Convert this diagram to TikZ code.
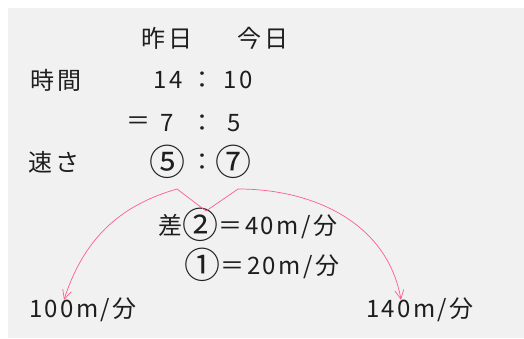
\documentclass[tikz,border=0pt]{standalone}
\usepackage{fontspec}
\newfontfamily\jp[LetterSpace=10]{Noto Sans CJK JP}
\usetikzlibrary{arrows.meta}
\definecolor{arccol}{RGB}{255,92,138}
\definecolor{inkcol}{RGB}{30,30,30}
\newcommand\circnum[1]{\raisebox{-4pt}{\fontsize{36}{36}\selectfont #1}}
\tikzset{txt/.style={inner sep=0pt,text=inkcol,font=\jp\fontsize{24}{26}\selectfont},
  arc/.style={draw=arccol,line width=0.7pt,-{Straight Barb[length=9pt,width=9pt]}}}
\begin{document}
\begin{tikzpicture}[x=1pt,y=1pt]
\useasboundingbox (0,0) rectangle (524,338);
\fill[black!5.5] (8,0) rectangle (524,330);
\node[txt] (yday) at (167,300) {昨日}; \node[txt] (tday) at (263,300) {今日};
\node[txt] (time) at (56,258) {時間}; \node[txt] (speed) at (54,176) {速さ};
\node[txt] (ta) at (168,258) {14}; \node[txt] (tc) at (202,258) {：}; \node[txt] (tb) at (238,258) {10};
\node[txt] (eq) at (138,215) {＝}; \node[txt] (ra) at (167,215) {7}; \node[txt] (rc) at (202,215) {：}; \node[txt] (rb) at (234,215) {5};
\node[txt] (sa) at (167,176) {\circnum{⑤}}; \node[txt] (sc) at (202,176) {：}; \node[txt] (sb) at (233,176) {\circnum{⑦}};
\node[txt] (diff) at (248,113) {差\circnum{②}＝40m/分};
\node[txt] (one) at (262,73) {\circnum{①}＝20m/分};
\node[txt] (slow) at (83,28) {100m/分}; \node[txt] (fast) at (420,28) {140m/分};
\coordinate (fork) at (206,127); \coordinate (lpeak) at (177,149); \coordinate (rpeak) at (238,149);
\draw[arc] (fork) -- (lpeak) to[out=196,in=72] ([xshift=-19pt,yshift=-2pt]slow.north);
\draw[arc] (fork) -- (rpeak) to[out=0,in=100] ([xshift=-19pt,yshift=-2pt]fast.north);
\end{tikzpicture}
\end{document}
